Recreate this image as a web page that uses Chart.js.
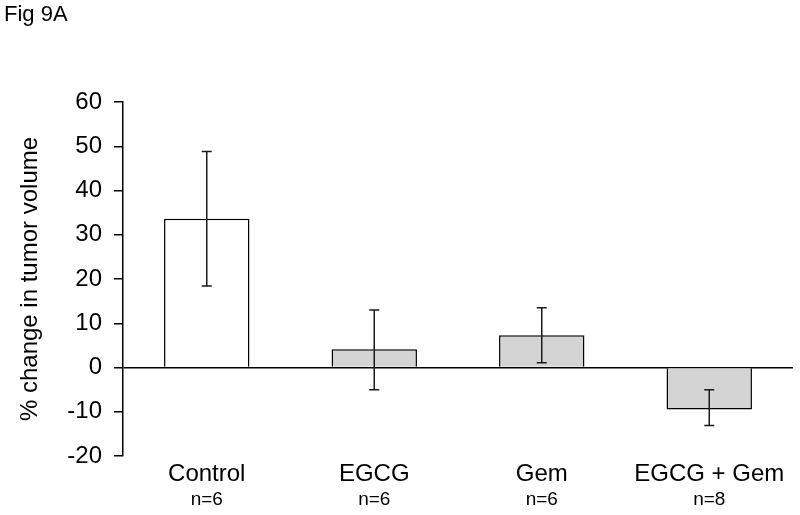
<!DOCTYPE html>
<html>
<head>
<meta charset="utf-8">
<script src="https://cdn.jsdelivr.net/npm/chart.js@4"></script>
<style>
  body { margin: 0; background: #fff; }
  #wrap { width: 800px; height: 515px; position: relative; }
</style>
</head>
<body>
<div id="wrap"><canvas id="tumorChart"></canvas></div>
<script>
// Data
const groups = ['Control', 'EGCG', 'Gem', 'EGCG + Gem'];
const sampleSizes = ['n=6', 'n=6', 'n=6', 'n=8'];
const meanChange = [33.6, 4.1, 7.3, -9.5];
const errLow = [18.4, -5.0, 1.1, -13.1];
const errHigh = [48.8, 13.0, 13.5, -5.0];
const barFills = ['#ffffff', '#d4d4d4', '#d4d4d4', '#d4d4d4'];

const FONT = "'Liberation Sans', Arial, sans-serif";

// draws the "Fig 9A" caption in the corner
const captionPlugin = {
    id: 'caption',
    afterDraw(chart) {
        const ctx = chart.ctx;
        ctx.save();
        ctx.font = '22px ' + FONT;
        ctx.fillStyle = '#000';
        ctx.textBaseline = 'alphabetic';
        ctx.fillText('Fig 9A', 4, 21);
        ctx.restore();
    }
};

// error bars from errLow / errHigh through the scales
const errorBarPlugin = {
    id: 'errorBars',
    afterDatasetsDraw(chart) {
        const ctx = chart.ctx;
        const xs = chart.scales.x;
        const ys = chart.scales.y;
        ctx.save();
        ctx.strokeStyle = '#1a1a1a';
        ctx.lineWidth = 1.5;
        groups.forEach((g, i) => {
            const x = xs.getPixelForValue(i);
            const yLo = ys.getPixelForValue(errLow[i]);
            const yHi = ys.getPixelForValue(errHigh[i]);
            ctx.beginPath();
            ctx.moveTo(x, yLo);
            ctx.lineTo(x, yHi);
            ctx.moveTo(x - 5, yLo);
            ctx.lineTo(x + 5, yLo);
            ctx.moveTo(x - 5, yHi);
            ctx.lineTo(x + 5, yHi);
            ctx.stroke();
        });
        ctx.restore();
    }
};

const ctx = document.getElementById('tumorChart').getContext('2d');
new Chart(ctx, {
    type: 'bar',
    data: {
        labels: groups,
        datasets: [{
            data: meanChange,
            backgroundColor: barFills,
            borderColor: '#000',
            borderWidth: 1.5,
            categoryPercentage: 1,
            barPercentage: 0.51
        }]
    },
    options: {
        responsive: true,
        maintainAspectRatio: false,
        animation: false,
        layout: { padding: { left: 0, right: 7, top: 102, bottom: 0 } },
        plugins: {
            legend: { display: false },
            tooltip: { enabled: false }
        },
        scales: {
            x: {
                type: 'category',
                position: 'bottom',
                weight: 0,
                grid: { display: false, drawTicks: false },
                border: { display: false },
                ticks: { color: '#000', font: { family: FONT, size: 24 }, padding: 4, maxRotation: 0 },
                afterFit(scale) { scale.height = 28; }
            },
            x2: {
                type: 'category',
                position: 'bottom',
                weight: 1,
                offset: true,
                labels: sampleSizes,
                grid: { display: false, drawTicks: false },
                border: { display: false },
                ticks: { color: '#000', font: { family: FONT, size: 19 }, padding: 4, maxRotation: 0 },
                afterFit(scale) { scale.height = 31; }
            },
            y: {
                min: -20,
                max: 60,
                ticks: { stepSize: 10, color: '#000', font: { family: FONT, size: 24 }, padding: 12 },
                grid: {
                    color: c => (c.tick && c.tick.value === 0) ? '#000' : 'rgba(0,0,0,0)',
                    lineWidth: 1.5,
                    tickColor: '#000',
                    tickLength: 9,
                    tickWidth: 1.5
                },
                border: { display: true, color: '#000', width: 1.5 },
                title: {
                    display: true,
                    text: '% change in tumor volume',
                    color: '#000',
                    font: { family: FONT, size: 24 },
                    padding: { top: 16, bottom: 0 }
                },
                afterFit(scale) { scale.width = 123; }
            }
        }
    },
    plugins: [captionPlugin, errorBarPlugin]
});
</script>
</body>
</html>
